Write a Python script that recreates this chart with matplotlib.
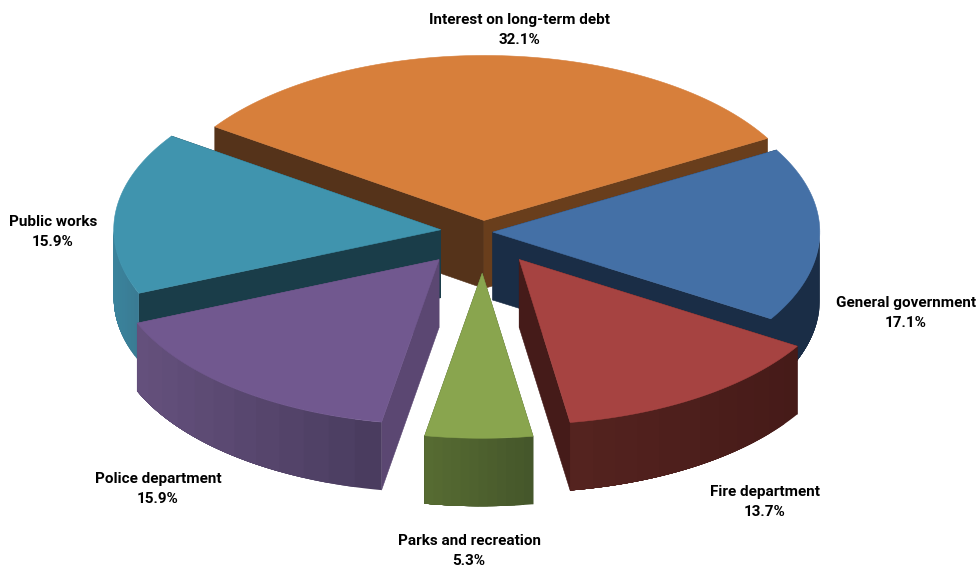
import numpy as np
import matplotlib
matplotlib.use("Agg")
import matplotlib.pyplot as plt
from matplotlib.colors import to_rgb
from matplotlib.patches import Polygon

# Expense shares, clockwise from the first slice
labels = ["Interest on long-term debt", "General government", "Fire department",
          "Parks and recreation", "Police department", "Public works"]
values = [32.1, 17.1, 13.7, 5.3, 15.9, 15.9]
explode = [0.07, 0.03, 0.20, 0.25, 0.215, 0.13]

top_colors = ["#D77F3B", "#4470A6", "#A64341", "#89A54E", "#71588F", "#4094AE"]
start_wall_colors = ["#693E1C", "#1A2D46", "#451B19", "#44552A", "#5B4772", "#1A3D49"]
end_wall_colors = ["#55331A", "#1A2D46", "#451B19", "#44552A", "#5B4772", "#1A3D49"]
rim_left_colors = ["#55331A", "#1A2D46", "#54231F", "#566B32", "#64507C", "#3A839C"]
rim_right_colors = ["#55331A", "#1A2D46", "#451A18", "#44552A", "#473A5C", "#3A7A92"]

label_pos = [(519, 30), (906, 313), (765, 502), (469, 551), (158, 489), (53, 232)]

# Pie geometry in pixels
cx, cy = 483, 232
rx, ry = 327, 165
depth = 68
start_angle = -55.4


def rim_points(t, x0, y0):
    # t is in degrees clockwise from the top of the pie
    a = np.radians(t)
    return x0 + rx * np.sin(a), y0 - ry * np.cos(a)


fig = plt.figure(figsize=(9.8, 5.67), dpi=100)
ax = fig.add_axes([0, 0, 1, 1])
ax.set_xlim(0, 980)
ax.set_ylim(567, 0)
ax.axis("off")

# Work out where each slice sits
edges = start_angle + np.cumsum([0] + values) * 3.6
slices = []
for i in range(len(values)):
    t0, t1 = edges[i], edges[i + 1]
    mid = np.radians((t0 + t1) / 2)
    x0 = cx + explode[i] * rx * np.sin(mid)
    y0 = cy - explode[i] * ry * np.cos(mid)
    slices.append((t0, t1, x0, y0))


def add_poly(xs, ys, color, z, lw=0.4):
    ax.add_patch(Polygon(np.column_stack([xs, ys]), closed=True, facecolor=color,
                         edgecolor=color if lw else "none", linewidth=lw, zorder=z))


# back to front
order = [0, 5, 1, 4, 2, 3]
for n, i in enumerate(order):
    t0, t1, x0, y0 = slices[i]
    z = n * 10

    for t, col in [(t0, end_wall_colors[i]), (t1, start_wall_colors[i])]:
        xe, ye = rim_points(t, x0, y0)
        add_poly([x0, xe, xe, x0], [y0, ye, ye + depth, y0 + depth], col, z)

    # outer wall only on the part of the rim facing the viewer,
    # each band painted to the end of the rim so the next one covers it
    lo, hi = max(t0, 90), min(t1, 270)
    if hi > lo:
        ts = np.linspace(lo, hi, 121)
        c0, c1 = np.array(to_rgb(rim_left_colors[i])), np.array(to_rgb(rim_right_colors[i]))
        xs, ys = rim_points(ts, x0, y0)
        span = max(xs.max() - xs.min(), 1)
        for k in range(0, 120, 10):
            f = (min(xs[k], xs[k + 10]) - xs.min()) / span
            add_poly(np.r_[xs[k:], xs[k:][::-1]], np.r_[ys[k:], ys[k:][::-1] + depth],
                     c0 + (c1 - c0) * f, z + 1, lw=0)

    ts = np.linspace(t0, t1, 80)
    xs, ys = rim_points(ts, x0, y0)
    add_poly(np.r_[x0, xs], np.r_[y0, ys], top_colors[i], z + 2)

for name, v, (lx, ly) in zip(labels, values, label_pos):
    ax.text(lx, ly, f"{name}\n{v}%", ha="center", va="center", fontsize=11,
            fontweight="bold", family="Roboto", color="black",
            linespacing=1.5, zorder=100)

fig.savefig("out.png", dpi=100)
